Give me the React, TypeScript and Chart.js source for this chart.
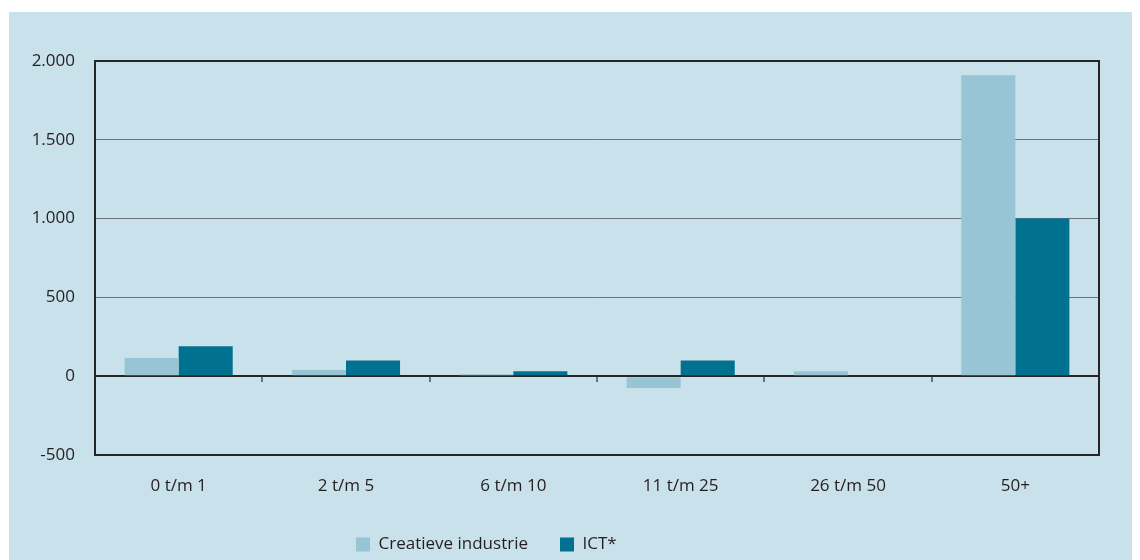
import React, { useEffect, useRef } from 'react';
import { Chart, registerables } from 'chart.js';

Chart.register(...registerables);

const categories = ['0 t/m 1', '2 t/m 5', '6 t/m 10', '11 t/m 25', '26 t/m 50', '50+'];
const creatieveIndustrie = [115, 40, 12, -75, 32, 1910];
const ict = [190, 100, 32, 100, 0, 1000];
const yTicks = [-500, 0, 500, 1000, 1500, 2000];
const seriesNames = ['Creatieve industrie', 'ICT*'];

const PANEL = '#c9e1ea';
const LIGHT = '#98c5d6';
const DARK_BAR = '#00728f';
const TEXT = '#231f20';
const FRAME = '#262626';
const GRID = '#6b7376';

const CANVAS_W = 1131;
const CANVAS_H = 548;
const LEGEND_X = 347;
const LEGEND_ROW_TOP = 524;

const fmt = (v: number) => {
  const s = String(Math.abs(v)).replace(/\B(?=(\d{3})+(?!\d))/g, '.');
  return v < 0 ? '-' + s : s;
};

const legendPlacer = {
  id: 'legendPlacer',
  afterLayout(chart: any) {
    const lg = chart.legend;
    if (!lg) return;
    const pad = lg.options.labels.padding;
    const w = lg.right - lg.left;
    const h = lg.bottom - lg.top;
    lg.left = LEGEND_X - pad;
    lg.right = lg.left + w;
    lg.top = LEGEND_ROW_TOP - pad;
    lg.bottom = lg.top + h;
  },
};

export default function App() {
  const ref = useRef<HTMLCanvasElement | null>(null);

  useEffect(() => {
    document.documentElement.style.overflow = 'hidden';
    document.body.style.overflow = 'hidden';
    Chart.defaults.font.family = "'Open Sans', sans-serif";
    const isFrame = (v: number) => v === 0 || v === 2000 || v === -500;
    const chart = new Chart(ref.current as HTMLCanvasElement, {
      type: 'bar',
      data: {
        labels: categories,
        datasets: [
          { label: seriesNames[0], data: creatieveIndustrie, backgroundColor: LIGHT, borderWidth: 0 },
          { label: seriesNames[1], data: ict, backgroundColor: DARK_BAR, borderWidth: 0 },
        ],
      },
      options: {
        animation: false,
        responsive: false,
        layout: { padding: { top: 49, right: 41, left: 0, bottom: 0 } },
        datasets: { bar: { categoryPercentage: 0.646, barPercentage: 1 } },
        plugins: {
          tooltip: { enabled: false },
          legend: {
            position: 'bottom',
            align: 'start',
            labels: {
              boxWidth: 14,
              boxHeight: 14,
              padding: 32,
              color: TEXT,
              font: { size: 17 },
            },
          },
        },
        scales: {
          x: {
            position: 'bottom',
            grid: { drawOnChartArea: false, drawTicks: false },
            border: { display: true, color: FRAME, width: 2 },
            ticks: { padding: 21, color: TEXT, font: { size: 17 } },
            afterFit: (s: any) => { s.height = 46; },
          },
          x2: {
            type: 'category',
            position: { y: 0 },
            grid: { drawOnChartArea: false, drawTicks: true, tickLength: 6, color: GRID, lineWidth: 2, offset: true },
            border: { display: false },
            ticks: { display: false },
          },
          y: {
            min: -500,
            max: 2000,
            grid: {
              drawTicks: false,
              color: (c: any) => (isFrame(c.tick?.value) ? FRAME : GRID),
              lineWidth: (c: any) => (isFrame(c.tick?.value) ? 2 : 1),
            },
            border: { color: FRAME, width: 2 },
            ticks: { padding: 20, color: TEXT, font: { size: 17 }, callback: (v: any) => fmt(Number(v)) },
            afterBuildTicks: (s: any) => { s.ticks = yTicks.map((v) => ({ value: v })); },
            afterFit: (s: any) => { s.width = 86; },
          },
          y2: {
            position: 'right',
            min: -500,
            max: 2000,
            grid: { drawOnChartArea: false, drawTicks: false },
            border: { color: FRAME, width: 2 },
            ticks: { display: false },
            afterFit: (s: any) => { s.width = 0; },
          },
        },
      } as any,
      plugins: [legendPlacer],
    });
    return () => chart.destroy();
  }, []);

  return (
    <div style={{ padding: '4px 0 0 1px' }}>
      <div style={{ width: CANVAS_W, height: CANVAS_H, background: PANEL }}>
        <canvas ref={ref} width={CANVAS_W} height={CANVAS_H} style={{ display: 'block' }} />
      </div>
    </div>
  );
}
